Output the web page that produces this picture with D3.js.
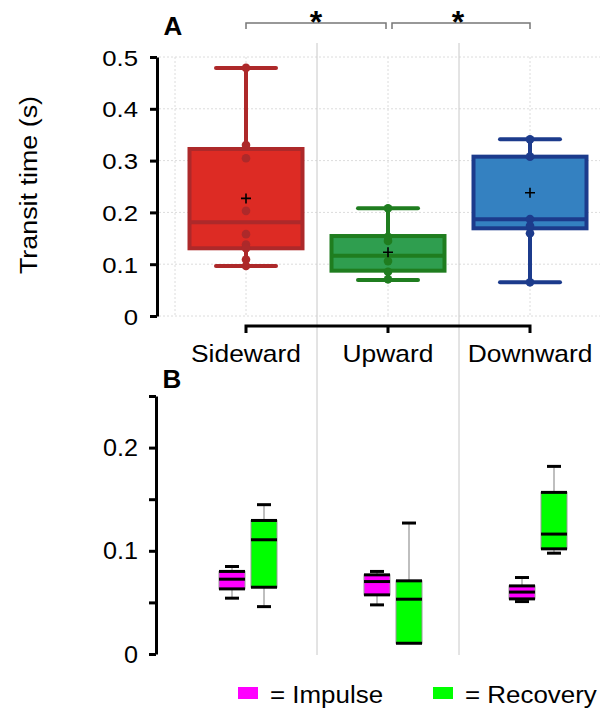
<!DOCTYPE html>
<html>
<head>
<meta charset="utf-8">
<script src="https://cdn.jsdelivr.net/npm/d3@7"></script>
<style>
  body { margin: 0; background: #fff; }
  svg { display: block; font-family: "Liberation Sans", Arial, sans-serif; }
</style>
</head>
<body>
<div class="chart"></div>
<script>
"use strict";

// DATA ----------------------------
const CATEGORIES = ["Sideward", "Upward", "Downward"];

// panel A: transit time per direction
const A_LOW = [0.0965, 0.0695, 0.065];
const A_Q1 = [0.1307, 0.0875, 0.1693];
const A_MEDIAN = [0.181, 0.1165, 0.1867];
const A_Q3 = [0.3224, 0.1544, 0.3076];
const A_HIGH = [0.479, 0.2078, 0.341];
const A_MEAN = [0.227, 0.123, 0.238];
const A_POINTS = [
  [0.479, 0.33, 0.3045, 0.203, 0.158, 0.138, 0.131, 0.109, 0.0965],
  [0.208, 0.153, 0.145, 0.106, 0.0855, 0.0708],
  [0.341, 0.3076, 0.187, 0.174, 0.1596, 0.065]
];
const A_TICKS = [0, 0.1, 0.2, 0.3, 0.4, 0.5];
const SIGNIFICANCE = [["Sideward", "Upward", "*"], ["Upward", "Downward", "*"]];

// panel B: impulse / recovery phases
const PHASES = ["Impulse", "Recovery"];
const IMPULSE_LOW = [0.0541, 0.0476, 0.0508];
const IMPULSE_Q1 = [0.0631, 0.0573, 0.0534];
const IMPULSE_MEDIAN = [0.0725, 0.0702, 0.06];
const IMPULSE_Q3 = [0.08, 0.0767, 0.066];
const IMPULSE_HIGH = [0.0848, 0.08, 0.0741];
const RECOVERY_LOW = [0.0459, 0.0104, 0.0977];
const RECOVERY_Q1 = [0.0647, 0.0104, 0.1019];
const RECOVERY_MEDIAN = [0.1107, 0.0531, 0.1162];
const RECOVERY_Q3 = [0.1294, 0.0709, 0.1566];
const RECOVERY_HIGH = [0.1447, 0.1269, 0.1818];
const B_TICKS = [0, 0.05, 0.1, 0.15, 0.2, 0.25];
const B_LABELS = [0, 0.1, 0.2];

const A_FILL = ["#dd2b24", "#2f9e4f", "#3481c1"];
const A_STROKE = ["#ad292a", "#1f7d1f", "#1c3b8c"];
const B_FILL = { Impulse: "#ff00ff", Recovery: "#00ff00" };

const W = 600, H = 708;
const SX = 1.08; // glyphs in the picture are a bit wider than Arial

const svg = d3.select(".chart").append("svg").attr("width", W).attr("height", H);

function label(g, x, y, txt, size, anchor, weight, sx) {
  return g.append("text")
    .attr("transform", `translate(${x},${y}) scale(${sx || SX},1)`)
    .attr("text-anchor", anchor || "middle")
    .attr("font-size", size)
    .attr("font-weight", weight || "normal")
    .attr("fill", "#000")
    .text(txt);
}

// SCALES ----------------------------
const xA = d3.scalePoint().domain(CATEGORIES).range([246, 530]);
const yA = d3.scaleLinear().domain([0, 0.5]).range([316, 57]);
const xB = d3.scalePoint().domain(CATEGORIES).range([248, 538]);
const yB = d3.scaleLinear().domain([0, 0.25]).range([654, 396]);
const phaseX = d3.scalePoint().domain(PHASES).range([-16, 16]);
const step = xA.step();

// GRID ----------------------------
const grid = svg.append("g");
grid.selectAll(".hg").data(A_TICKS).join("line")
  .attr("x1", 159).attr("x2", W)
  .attr("y1", (d) => yA(d)).attr("y2", (d) => yA(d))
  .attr("stroke", "#dcdcdc").attr("stroke-dasharray", "2,2");
grid.selectAll(".vg").data([xA(CATEGORIES[0]) - step / 2].concat(CATEGORIES.map((c) => xA(c))))
  .join("line")
  .attr("x1", (d) => d).attr("x2", (d) => d)
  .attr("y1", yA(0.5)).attr("y2", yA(0))
  .attr("stroke", "#dcdcdc").attr("stroke-dasharray", "2,2");

// separators between directions, through both panels
grid.selectAll(".sep").data(CATEGORIES.slice(1)).join("line")
  .attr("x1", (d) => xA(d) - step / 2).attr("x2", (d) => xA(d) - step / 2)
  .attr("y1", 43).attr("y2", 655)
  .attr("stroke", "#c8c8c8").attr("stroke-width", 1);

// PANEL A ----------------------------
const gA = svg.append("g");
const BOX_W = 113, CAP_W = 60;

CATEGORIES.forEach((c, i) => {
  const cx = xA(c);
  const g = gA.append("g");
  g.append("line")
    .attr("x1", cx).attr("x2", cx)
    .attr("y1", yA(A_LOW[i])).attr("y2", yA(A_HIGH[i]))
    .attr("stroke", A_STROKE[i]).attr("stroke-width", 4);
  [A_LOW[i], A_HIGH[i]].forEach((v) => {
    g.append("line")
      .attr("x1", cx - CAP_W / 2).attr("x2", cx + CAP_W / 2)
      .attr("y1", yA(v)).attr("y2", yA(v))
      .attr("stroke", A_STROKE[i]).attr("stroke-width", 4).attr("stroke-linecap", "round");
  });
  g.append("rect")
    .attr("x", cx - BOX_W / 2).attr("width", BOX_W)
    .attr("y", yA(A_Q3[i])).attr("height", yA(A_Q1[i]) - yA(A_Q3[i]))
    .attr("fill", A_FILL[i]).attr("stroke", A_STROKE[i]).attr("stroke-width", 4);
  g.append("line")
    .attr("x1", cx - BOX_W / 2).attr("x2", cx + BOX_W / 2)
    .attr("y1", yA(A_MEDIAN[i])).attr("y2", yA(A_MEDIAN[i]))
    .attr("stroke", A_STROKE[i]).attr("stroke-width", 4);
  g.selectAll("circle").data(A_POINTS[i]).join("circle")
    .attr("cx", cx).attr("cy", (d) => yA(d)).attr("r", 4.3)
    .attr("fill", A_STROKE[i]);
  // mean marker
  const my = yA(A_MEAN[i]);
  g.append("path")
    .attr("d", `M${cx - 5},${my}H${cx + 5}M${cx},${my - 5}V${my + 5}`)
    .attr("stroke", "#000").attr("stroke-width", 1.6);
});

// y axis A
const yAxisA = gA.append("g").attr("transform", "translate(157,0)")
  .call(d3.axisLeft(yA).tickValues(A_TICKS).tickSize(7).tickSizeOuter(0)
    .tickFormat((d) => (d === 0 ? "0" : d3.format(".1f")(d))));
yAxisA.select(".domain").attr("stroke", "#000").attr("stroke-width", 3);
yAxisA.selectAll(".tick line").attr("stroke", "#000").attr("stroke-width", 3);
yAxisA.selectAll(".tick text")
  .attr("x", null).attr("dy", null)
  .attr("transform", `translate(-19,8) scale(1.12,1)`)
  .attr("font-size", 23).attr("font-family", "Liberation Sans, Arial, sans-serif")
  .attr("fill", "#000");

gA.append("text")
  .attr("transform", "translate(37,185) rotate(-90) scale(1.12,1)")
  .attr("text-anchor", "middle").attr("font-size", 24).attr("fill", "#000")
  .text("Transit time (s)");

// category axis A
const xAxisY = 326;
gA.append("path")
  .attr("d", `M${xA(CATEGORIES[0])},${xAxisY + 7}V${xAxisY}H${xA(CATEGORIES[CATEGORIES.length - 1])}V${xAxisY + 7}`)
  .attr("fill", "none").attr("stroke", "#000").attr("stroke-width", 3);
gA.append("line")
  .attr("x1", xA(CATEGORIES[1])).attr("x2", xA(CATEGORIES[1]))
  .attr("y1", xAxisY).attr("y2", xAxisY + 7)
  .attr("stroke", "#000").attr("stroke-width", 3);
CATEGORIES.forEach((c) => label(gA, xA(c), 362, c, 24, "middle", "normal", 1.1));

// significance brackets
SIGNIFICANCE.forEach(([a, b, s], i) => {
  const x1 = xA(a) + (i === 0 ? 0 : 4), x2 = xA(b) - (i === 0 ? 2 : 0);
  gA.append("path")
    .attr("d", `M${x1},29V23H${x2}V29`)
    .attr("fill", "none").attr("stroke", "#777").attr("stroke-width", 1.5);
  label(gA, (xA(a) + xA(b)) / 2 - 1, 33, s, 32, "middle", "bold", 1);
});

label(gA, 173, 35, "A", 26, "middle", "bold", 1);

// PANEL B ----------------------------
const gB = svg.append("g");
const BW = 26, BCAP = 14;
const stats = {
  Impulse: [IMPULSE_LOW, IMPULSE_Q1, IMPULSE_MEDIAN, IMPULSE_Q3, IMPULSE_HIGH],
  Recovery: [RECOVERY_LOW, RECOVERY_Q1, RECOVERY_MEDIAN, RECOVERY_Q3, RECOVERY_HIGH]
};

CATEGORIES.forEach((c, i) => {
  PHASES.forEach((p) => {
    const [lo, q1, med, q3, hi] = stats[p].map((arr) => arr[i]);
    const cx = xB(c) + phaseX(p);
    const g = gB.append("g");
    g.append("line")
      .attr("x1", cx).attr("x2", cx).attr("y1", yB(lo)).attr("y2", yB(hi))
      .attr("stroke", "#aaa").attr("stroke-width", 1.5);
    g.append("rect")
      .attr("x", cx - BW / 2).attr("width", BW)
      .attr("y", yB(q3)).attr("height", yB(q1) - yB(q3))
      .attr("fill", B_FILL[p]).attr("stroke", "#999").attr("stroke-width", 1);
    [q1, med, q3].forEach((v) => {
      g.append("line")
        .attr("x1", cx - BW / 2).attr("x2", cx + BW / 2)
        .attr("y1", yB(v)).attr("y2", yB(v))
        .attr("stroke", "#000").attr("stroke-width", 3);
    });
    [lo, hi].filter((v) => v !== q1).forEach((v) => {
      g.append("line")
        .attr("x1", cx - BCAP / 2).attr("x2", cx + BCAP / 2)
        .attr("y1", yB(v)).attr("y2", yB(v))
        .attr("stroke", "#000").attr("stroke-width", 3);
    });
  });
});

const yAxisB = gB.append("g").attr("transform", "translate(156,0)")
  .call(d3.axisLeft(yB).tickValues(B_TICKS).tickSize(7).tickSizeOuter(0)
    .tickFormat((d) => (B_LABELS.includes(d) ? (d === 0 ? "0" : d3.format(".1f")(d)) : "")));
yAxisB.select(".domain").attr("stroke", "#000").attr("stroke-width", 3);
yAxisB.selectAll(".tick line").attr("stroke", "#000").attr("stroke-width", 3);
yAxisB.selectAll(".tick text")
  .attr("x", null).attr("dy", null)
  .attr("transform", `translate(-18,8) scale(1.05,1)`)
  .attr("font-size", 24).attr("font-family", "Liberation Sans, Arial, sans-serif")
  .attr("fill", "#000");

label(gB, 172, 388, "B", 26, "middle", "bold", 1);

// legend
const legendX = d3.scalePoint().domain(PHASES).range([238, 433]);
PHASES.forEach((p) => {
  gB.append("rect")
    .attr("x", legendX(p)).attr("y", 687).attr("width", 20).attr("height", 12)
    .attr("fill", B_FILL[p]);
  label(gB, legendX(p) + 32, 703, "= " + p, 24, "start", "normal", 1.08);
});
</script>
</body>
</html>
